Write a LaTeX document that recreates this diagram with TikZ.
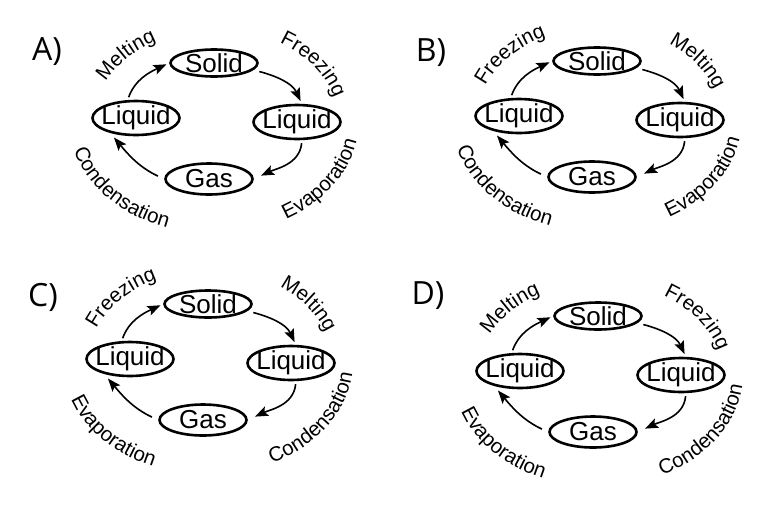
\documentclass[tikz,border=0pt]{standalone}
\usepackage{fontspec}
\setmainfont{Liberation Sans}
\newfontfamily\letterfont{Open Sans}
\usepackage{tikz}
\usetikzlibrary{shapes.geometric,arrows.meta,decorations.text}
\newcommand{\lblfont}{\fontsize{20.5}{20.5}\selectfont}
\tikzset{
  stateBox/.style={
    ellipse,
    draw=black,
    line width=2.6pt,
    inner sep=-8pt,
    minimum width=87pt,
    font=\fontsize{26}{26}\selectfont
 },
  cycleArrow/.style={
    -{Stealth[length=13pt,width=10pt,inset=2.5pt]},
    line width=1.6pt
 },
  tagText/.style={
    font=\letterfont\fontsize{32}{32}\selectfont
 }
}

\begin{document}
\begin{tikzpicture}[x=1pt,y=1pt]
  \useasboundingbox (0,0) rectangle (770,-517);

  \foreach \pan/\cx/\cy/\lx/\ly/\tlab/\trlab/\bllab/\brlab in {
      A/214/121/47/52/Melting/Freezing/Condensation/Evaporation,
      B/597/119/431/53/Freezing/Melting/Condensation/Evaporation,
      C/208/362/43/297/Freezing/Melting/Evaporation/Condensation,
      D/598/374/428/296/Melting/Freezing/Evaporation/Condensation}{
    \node[tagText] (tag\pan) at (\lx,-\ly) {\pan)};
    \begin{scope}[shift={(\cx,-\cy)}]
      \node[stateBox, minimum height=27pt] (solid\pan) at (0,58) {Solid};
      \node[stateBox, minimum height=34pt] (liqL\pan) at (-78,3) {Liquid};
      \node[stateBox, minimum height=34pt] (liqR\pan) at (83,-1) {Liquid};
      \node[stateBox, minimum height=31pt] (gas\pan) at (-5,-58) {Gas};

      \draw[cycleArrow, shorten <=3pt, shorten >=3pt] (liqL\pan.115) to[out=70,in=205] (solid\pan.west);
      \draw[cycleArrow, shorten <=6pt, shorten >=3pt] (solid\pan.-10) to[out=-15,in=115] (liqR\pan.75);
      \draw[cycleArrow, shorten <=3pt, shorten >=8pt] (liqR\pan.-75) to[out=-95,in=25] (gas\pan.east);
      \draw[cycleArrow, shorten <=7pt, shorten >=6pt] (gas\pan.west) to[out=155,in=-50] (liqL\pan.-150);

      % process names round the cycle
      \path[decorate, decoration={text along path, text/.expanded={|\noexpand\lblfont|\tlab}, text align=center}]
        (187:120 and 91) arc[start angle=187, end angle=93, x radius=120, y radius=91];
      \path[decorate, decoration={text along path, text/.expanded={|\noexpand\lblfont|\trlab}, text align=center}]
        (80:124 and 92) arc[start angle=80, end angle=-14, x radius=124, y radius=92];
      \path[decorate, decoration={text along path, text/.expanded={|\noexpand\lblfont|\bllab}, text align=center}]
        (166:145 and 113) arc[start angle=166, end angle=274, x radius=145, y radius=113];
      \path[decorate, decoration={text along path, text/.expanded={|\noexpand\lblfont|\brlab}, text align=center}]
        (274:145 and 113) arc[start angle=274, end angle=382, x radius=145, y radius=113];
    \end{scope}
  }
\end{tikzpicture}
\end{document}
